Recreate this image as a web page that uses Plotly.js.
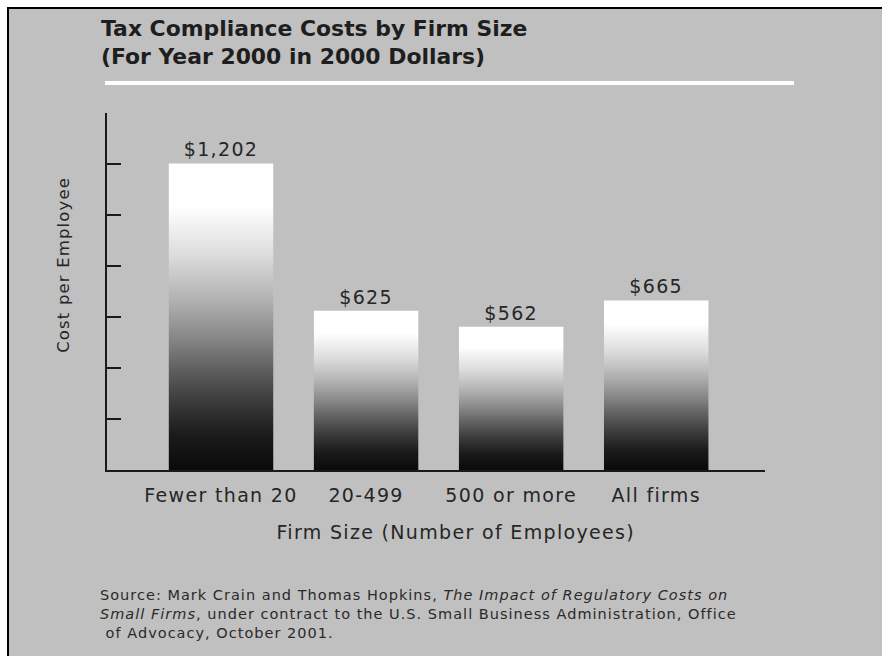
<!DOCTYPE html>
<html>
<head>
<meta charset="utf-8">
<script src="https://cdn.plot.ly/plotly-3.0.1.min.js"></script>
<style>
  html, body { margin: 0; padding: 0; background: #ffffff; }
  #wrap { position: absolute; left: 0; top: 0; width: 882px; height: 656px; background: #ffffff; overflow: hidden; }
  #chart { position: absolute; left: 7px; top: 7px; width: 875px; height: 649px;
           border-left: 2px solid #000; border-top: 2px solid #000; box-sizing: border-box; }
  #chart text { letter-spacing: 0.07em; }
  #chart .gtitle { letter-spacing: 0; }
</style>
</head>
<body>
<div id="wrap"><div id="chart"></div></div>
<script>
// ---- data ----
const categories = ["Fewer than 20", "20-499", "500 or more", "All firms"];
const costPerEmployee = [1202, 625, 562, 665];
const titleLines = ["Tax Compliance Costs by Firm Size", "(For Year 2000 in 2000 Dollars)"];
const xTitle = "Firm Size (Number of Employees)";
const yTitle = "Cost per Employee";
const sourceLines = [
  "Source: Mark Crain and Thomas Hopkins, <i>The Impact of Regulatory Costs on</i>",
  "<i>Small Firms</i>, under contract to the U.S. Small Business Administration, Office",
  "&nbsp;of Advocacy, October 2001."
];

const valueLabels = costPerEmployee.map(v => "$" + v.toLocaleString("en-US"));

const FONT = "DejaVu Sans, Verdana, sans-serif";
const TXT = "#262626";

// plot area in the 873x647 inner box (offset 9px)
const W = 873, H = 647;
const M = { l: 98, r: 117, t: 104, b: 186 };
const pw = W - M.l - M.r, ph = H - M.t - M.b;
const px = x => (x - 9 - M.l) / pw;           // page x -> paper x
const py = y => (H - M.b - (y - 9)) / ph;     // page y -> paper y

const trace = {
  type: "bar",
  x: [0, 1, 2, 3],
  y: costPerEmployee,
  width: 0.72,
  marker: { color: "#000000", line: { width: 0 } },
  text: valueLabels,
  textposition: "outside",
  textfont: { family: FONT, size: 19, color: TXT },
  constraintext: "none",
  cliponaxis: false,
  hoverinfo: "skip"
};

const layout = {
  width: W, height: H,
  paper_bgcolor: "#c0c0c0",
  plot_bgcolor: "#c0c0c0",
  margin: M,
  showlegend: false,
  font: { family: FONT, color: TXT },
  title: {
    text: titleLines.join("<br>"),
    font: { family: FONT, size: 21.9, color: "#1e1e1e", weight: "bold" },
    x: (101 - 9) / W, xanchor: "left", xref: "container",
    y: 1 - (36 - 9) / H, yanchor: "top", yref: "container"
  },
  xaxis: {
    range: [-0.786, 3.75],
    tickmode: "array", tickvals: [0, 1, 2, 3], ticktext: categories,
    ticks: "", showgrid: false, zeroline: false,
    showline: true, linewidth: 2, linecolor: "#1a1a1a",
    ticklabelstandoff: 7,
    tickfont: { family: FONT, size: 19, color: TXT },
    fixedrange: true
  },
  yaxis: {
    range: [0, 1400], dtick: 200, tick0: 0,
    ticks: "inside", ticklen: 14, tickwidth: 2, tickcolor: "#1a1a1a",
    showticklabels: false, showgrid: false, zeroline: false,
    showline: true, linewidth: 2, linecolor: "#1a1a1a",
    fixedrange: true
  },
  shapes: [{
    type: "line", xref: "paper", yref: "paper",
    x0: px(105), x1: px(794), y0: py(83), y1: py(83),
    line: { color: "#ffffff", width: 4 }
  }],
  annotations: [
    {
      xref: "paper", yref: "paper",
      x: px(456), y: py(532), xanchor: "center", yanchor: "middle",
      text: xTitle, showarrow: false,
      font: { family: FONT, size: 19, color: TXT }
    },
    {
      xref: "paper", yref: "paper",
      x: px(63), y: py(265), xanchor: "center", yanchor: "middle",
      text: yTitle, textangle: -90, showarrow: false,
      font: { family: FONT, size: 16.5, color: TXT }
    },
    {
      xref: "paper", yref: "paper",
      x: px(98), y: py(585), xanchor: "left", yanchor: "top", align: "left",
      text: sourceLines.join("<br>"),
      showarrow: false,
      font: { family: FONT, size: 14.5, color: "#2a2a2a" }
    }
  ]
};

Plotly.newPlot("chart", [trace], layout, { staticPlot: true, displayModeBar: false }).then(gd => {
  const svg = gd.querySelector("svg.main-svg");
  const NS = "http://www.w3.org/2000/svg";
  const defs = document.createElementNS(NS, "defs");
  const grad = document.createElementNS(NS, "linearGradient");
  grad.setAttribute("id", "barGrad");
  grad.setAttribute("x1", "0"); grad.setAttribute("y1", "0");
  grad.setAttribute("x2", "0"); grad.setAttribute("y2", "1");
  const stops = [[0, "#ffffff"], [0.14, "#ffffff"], [0.3, "#dcdcdc"], [0.45, "#b0b0b0"],
                 [0.56, "#8a8a8a"], [0.67, "#606060"], [0.78, "#3a3a3a"], [0.89, "#1a1a1a"],
                 [1, "#0a0a0a"]];
  stops.forEach(([o, c]) => {
    const s = document.createElementNS(NS, "stop");
    s.setAttribute("offset", o);
    s.setAttribute("stop-color", c);
    grad.appendChild(s);
  });
  defs.appendChild(grad);
  svg.insertBefore(defs, svg.firstChild);
  gd.querySelectorAll(".bars .point path").forEach(p => {
    p.style.setProperty("fill", "url(#barGrad)");
  });
});
</script>
</body>
</html>
